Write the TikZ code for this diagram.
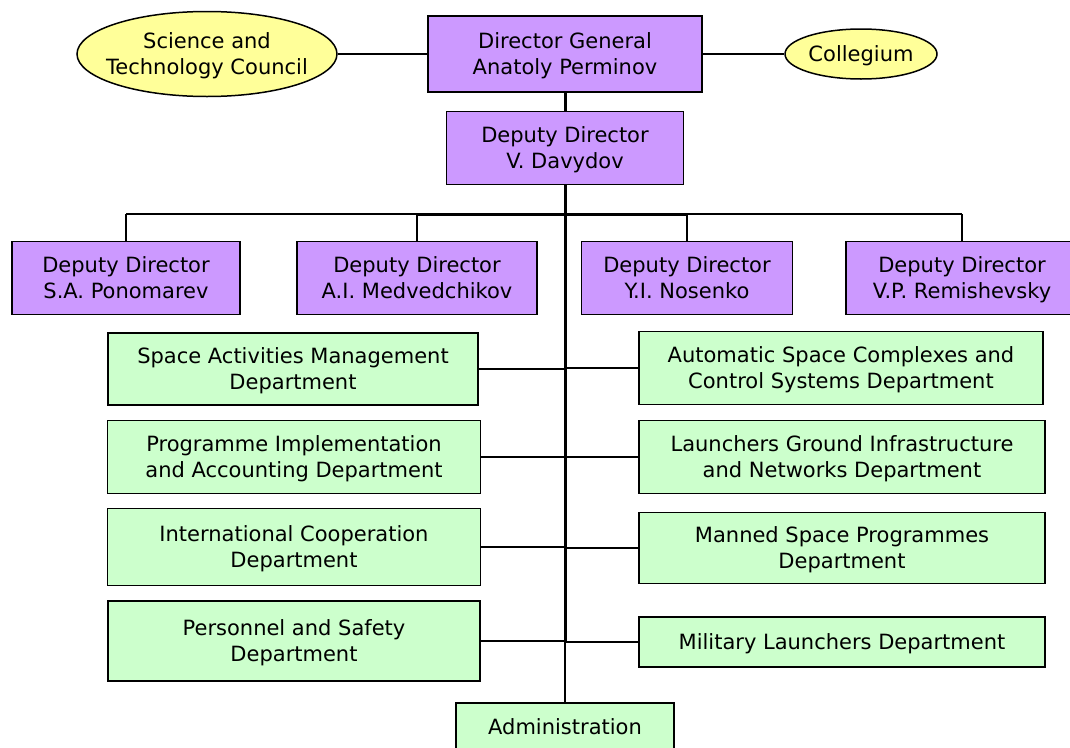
\documentclass[tikz,border=0pt]{standalone}
\usepackage{fontspec}
\setmainfont{DejaVu Sans}
\usetikzlibrary{shapes,positioning,calc}
\definecolor{lilac}{HTML}{CC99FF}
\definecolor{mint}{HTML}{CCFFCC}
\definecolor{paleyellow}{HTML}{FFFF99}

\begin{document}
\begin{tikzpicture}[
    x=1pt, y=-1pt,
    every node/.style={font=\fontsize{21}{26}\selectfont, inner sep=0pt},
    chief/.style={rectangle, draw, line width=1.5pt, fill=lilac, align=center, text depth=0pt, minimum height=73pt},
    council/.style={ellipse, draw, line width=1.5pt, fill=paleyellow, align=center, text depth=0pt},
    dept/.style={rectangle, draw, line width=1.5pt, fill=mint, align=center, text depth=0pt},
    link/.style={line width=1.5pt},
    spine/.style={line width=3pt}
]
\useasboundingbox (0,0) rectangle (1070,747);

% Top level
\node[chief, minimum width=274pt, minimum height=76pt] (dg) at (565,54) {Director General\\Anatoly Perminov};
\node[council, inner xsep=-9pt, minimum width=260pt, minimum height=85pt] (stc) at (207,54) {Science and\\Technology Council};
\node[council, minimum width=152pt, minimum height=50pt] (col) at (861,54) {Collegium};
\draw[link] (stc) -- (dg);
\draw[link] (dg) -- (col);

% First deputy
\node[chief, minimum width=237pt] (dd) at (565,148) {Deputy Director\\V. Davydov};
\draw[spine] (dg) -- (dd);

% Deputy directors
\node[chief, minimum width=228pt] (pon) at (126,278) {Deputy Director\\S.A. Ponomarev};
\node[chief, minimum width=240pt] (med) at (417,278) {Deputy Director\\A.I. Medvedchikov};
\node[chief, minimum width=211pt] (nos) at (687,278) {Deputy Director\\Y.I. Nosenko};
\node[chief, minimum width=232pt] (rem) at (962,278) {Deputy Director\\V.P. Remishevsky};

\coordinate (barpon) at (126,214);
\coordinate (barmed) at (417,214);
\coordinate (barnos) at (687,214);
\coordinate (barrem) at (962,214);
\draw[spine] (barmed) -- (barnos);
\draw[link] (barpon) -- (barmed);
\draw[link] (barnos) -- (barrem);
\foreach \d in {pon,med,nos,rem}
    \draw[link] (bar\d) -- (\d.north);

% Departments, left column
\node[dept, minimum width=370pt, minimum height=72pt] (sam) at (293,369) {Space Activities Management\\Department};
\node[dept, minimum width=373pt, minimum height=73pt] (pia) at (294,457) {Programme Implementation\\and Accounting Department};
\node[dept, minimum width=373pt, minimum height=77pt] (icd) at (294,547) {International Cooperation\\Department};
\node[dept, minimum width=372pt, minimum height=80pt] (psd) at (294,641) {Personnel and Safety\\Department};

% Departments, right column
\node[dept, minimum width=404pt, minimum height=73pt] (asc) at (841,368) {Automatic Space Complexes and\\Control Systems Department};
\node[dept, minimum width=406pt, minimum height=73pt] (lgi) at (842,457) {Launchers Ground Infrastructure\\and Networks Department};
\node[dept, minimum width=406pt, minimum height=71pt] (msp) at (842,548) {Manned Space Programmes\\Department};
\node[dept, minimum width=406pt, minimum height=50pt] (mld) at (842,642) {Military Launchers Department};

% Administration
\node[dept, minimum width=218pt, minimum height=48pt] (adm) at (565,727) {Administration};

% Main line
\coordinate (low) at (dd.south |- psd.east);
\draw[spine] (dd) -- (low);
\draw[link] (low) -- (adm);

\foreach \d in {sam,pia,icd,psd}
    \draw[link] (\d.east) -- (\d.east -| dd.south);
\foreach \d in {asc,lgi,msp,mld}
    \draw[link] (\d.west) -- (\d.west -| dd.south);

\end{tikzpicture}
\end{document}
